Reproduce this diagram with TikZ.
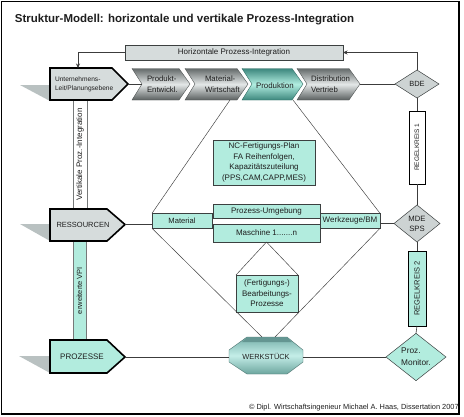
\documentclass[tikz,border=0pt]{standalone}
\usepackage{fontspec}
\setmainfont{Liberation Sans}
\usepackage{graphicx}
\usetikzlibrary{shapes.geometric,arrows.meta}
\definecolor{mint}{RGB}{178,236,222}
\definecolor{lgray}{RGB}{214,220,220}
\definecolor{dgray}{RGB}{205,211,211}
\definecolor{bordc}{RGB}{60,64,64}
\definecolor{linec}{RGB}{60,60,60}
\definecolor{shad}{RGB}{185,193,193}
\definecolor{chevD}{RGB}{100,106,106}
\definecolor{chevL}{RGB}{228,232,232}
\definecolor{tealD}{RGB}{60,135,125}
\definecolor{tealL}{RGB}{178,238,225}
\definecolor{wsD}{RGB}{118,176,170}
\definecolor{wsB}{RGB}{108,165,158}
\definecolor{wsL}{RGB}{196,238,232}
\definecolor{wsTop}{RGB}{100,150,146}
\definecolor{txt}{RGB}{30,30,30}
\newcommand\fsz[2]{\fontsize{#1pt}{#2pt}\selectfont}
\newcommand\mychev[3]{\path[#3] (#1,68.5) -- ({#2-11},68.5) -- (#2,84) -- ({#2-11},100) -- (#1,100) -- ({#1+10},84) -- cycle;}
\begin{document}
\begin{tikzpicture}[x=1pt,y=-1pt,
 every node/.style={inner sep=0pt,outer sep=0pt,text=txt,font=\fsz{8}{9.6}},
 line/.style={draw=linec,line width=0.6pt},
 diag/.style={draw=linec,line width=0.45pt},
 arr/.style={line,-{Stealth[length=4.5pt,width=4pt]}},
 mbox/.style={draw=bordc,line width=0.5pt,fill=mint,align=center},
 gbox/.style={draw=bordc,line width=0.5pt,fill=lgray,align=center},
 penta/.style={draw=black,line width=1.6pt,line join=miter},
 chevg/.style={draw=chevD!80!black,line width=0.4pt,top color=chevD,bottom color=chevD!90!black,middle color=chevL},
 chevt/.style={draw=tealD!80!black,line width=0.4pt,top color=tealD,bottom color=tealD,middle color=tealL},
 dia/.style={diamond,draw=bordc,line width=0.5pt,fill=dgray,align=center},
 rkbox/.style={draw=black,line width=0.6pt}
]
\useasboundingbox (0,0) rectangle (464,416);
\fill[white] (0,0) rectangle (464,416);
\draw[line width=1.2pt] (1.5,1.5) rectangle (459,414);

% title
\node[anchor=base west,font=\bfseries\fsz{11.5}{13}] (title) at (15,22) {Struktur-Modell: horizontale und vertikale Prozess-Integration};

% horizontal integration box
\node[gbox,minimum width=218,minimum height=15,font=\fsz{8}{9}] (hpi) at (234,52.5) {Horizontale Prozess-Integration};

% vertical bars
\node[draw=bordc!70,line width=0.5pt,fill=white,minimum width=14,minimum height=109,font=\fsz{8}{9}] (vpi) at (80,154.5) {\rotatebox{90}{Vertikale Proz.-Integration}};
\node[mbox,draw=bordc!70,minimum width=13,minimum height=99,font=\fsz{7.5}{9}] (evpi) at (79.5,290.5) {\rotatebox{90}{erweiterte VPI}};

% shadows
\fill[shad] (20,85) -- (50,85) -- (50,101) -- cycle;
\fill[shad] (20,224) -- (50,224) -- (50,241) -- cycle;
\fill[shad] (19,356) -- (50,356) -- (50,373) -- cycle;

% left pentagons
\path[penta,fill=lgray] (50,68) -- (112,68) -- (128,84) -- (112,100) -- (50,100) -- cycle;
\node[anchor=west,align=left,font=\fsz{6.6}{9}] (unt) at (55,84) {Unternehmens-\\Leit/Planungsebene};
\coordinate (unt-tip) at (128,84);
\coordinate (unt-top) at (78,68);

\path[penta,fill=lgray] (50,209) -- (107,209) -- (125,224.5) -- (107,241) -- (50,241) -- cycle;
\node[font=\fsz{7.5}{9}] (res) at (83,225) {RESSOURCEN};
\coordinate (res-tip) at (125,224);

\path[penta,fill=mint] (50,340) -- (107,340) -- (125,357) -- (107,373) -- (50,373) -- cycle;
\node[font=\fsz{8}{9}] (pro) at (82,357) {PROZESSE};
\coordinate (pro-tip) at (125,357);

% chevrons
\mychev{132}{190}{chevg}
\node[anchor=west,align=left,font=\fsz{7.8}{11}] (pe) at (147,84) {Produkt-\\Entwickl.};
\coordinate (pe-notch) at (142,84);
\mychev{185}{248}{chevg}
\node[anchor=west,align=left,font=\fsz{7.8}{11}] (mw) at (205,84) {Material-\\Wirtschaft};
\mychev{242}{303}{chevt}
\node[anchor=west,font=\fsz{7.9}{9}] (prod) at (256,85.5) {Produktion};
\coordinate (prod-a) at (230,100);
\coordinate (prod-b) at (293,100);
\mychev{297}{360}{chevg}
\node[anchor=west,align=left,font=\fsz{7.8}{11}] (dv) at (311,84) {Distribution\\Vertrieb};
\coordinate (dv-tip) at (360,84);

% right column
\node[dia,minimum width=44,minimum height=28,font=\fsz{7.5}{9}] (bde) at (417,84) {BDE};
\node[rkbox,fill=white,minimum width=16,minimum height=73,font=\fsz{6.5}{8}] (rk1) at (417,147.5) {\rotatebox{90}{REGELKREIS 1}};
\node[dia,minimum width=46,minimum height=37,font=\fsz{7.7}{10}] (mde) at (417,223.5) {MDE\\SPS};
\node[rkbox,fill=mint,minimum width=18,minimum height=75,font=\fsz{7.5}{9}] (rk2) at (417,288.5) {\rotatebox{90}{REGELKREIS 2}};
\node[dia,fill=mint,minimum width=60,minimum height=40,align=left,font=\fsz{8.3}{12}] (pm) at (416,357) {Proz.\\Monitor.};

% centre boxes
\node[mbox,minimum width=102,minimum height=45,font=\fsz{8}{10.5}] (nc) at (264,162.5) {NC-Fertigungs-Plan\\FA Reihenfolgen,\\Kapazitätszuteilung\\(PPS,CAM,CAPP,MES)};
\node[mbox,minimum width=107,minimum height=14] (pu) at (266.5,211) {Prozess-Umgebung};
\node[mbox,minimum width=107,minimum height=18] (ma) at (266.5,233) {Maschine 1.......n};
\node[mbox,minimum width=60,minimum height=15,font=\fsz{7.6}{9}] (mat) at (182,220.8) {Material};
\node[mbox,minimum width=60,minimum height=15] (wz) at (350,220.8) {Werkzeuge/BM};
\node[mbox,minimum width=62,minimum height=37,font=\fsz{8}{10.5}] (fb) at (267,293.5) {(Fertigungs-)\\Bearbeitungs-\\Prozesse};

% Werkstueck
\path[draw=wsB!70!black,line width=0.4pt,top color=wsD,bottom color=wsB,middle color=wsL]
  (247,337) -- (287,337) -- (303,350) -- (303,362) -- (287,374) -- (247,374) -- (229,362) -- (229,350) -- cycle;
\fill[wsTop] (247,337) -- (287,337) -- (292,342) -- (242,342) -- cycle;
\node[font=\fsz{7.4}{9}] (ws) at (266,356) {WERKSTÜCK};
\coordinate (ws-l) at (262,337);
\coordinate (ws-r) at (275,337);
\coordinate (ws-w) at (229,357);
\coordinate (ws-e) at (303,357);

% connectors
\draw[arr] (bde.north) |- (hpi.east);
\draw[arr] (hpi.west) -| (unt-top);
\draw[line] (unt-tip) -- (pe-notch);
\draw[line] (dv-tip) -- (bde.west);
\draw[line] (bde.south) -- (rk1.north);
\draw[line] (rk1.south) -- (mde.north);
\draw[line] (mde.south) -- (rk2.north);
\draw[line] (rk2.south) -- (pm.north);
\draw[line] (res-tip) -- (res-tip -| mat.west);
\draw[line] (mde.west) -- (mde.west -| wz.east);
\draw[line] (pro-tip) -- (ws-w);
\draw[line] (ws-e) -- (pm.west);
\draw[diag] (prod-a) -- (mat.north west);
\draw[diag] (prod-b) -- (wz.north east);
\draw[diag] (mat.south west) -- (ws-l);
\draw[diag] (wz.south east) -- (ws-r);
\draw[diag] (ma.south) -- (fb.north west);
\draw[diag] (ma.south) -- (fb.north east);

% copyright
\node[anchor=base west,font=\fsz{7.4}{9}] (copy) at (249,409) {© Dipl. Wirtschaftsingenieur Michael A. Haas, Dissertation 2007};
\end{tikzpicture}
\end{document}
